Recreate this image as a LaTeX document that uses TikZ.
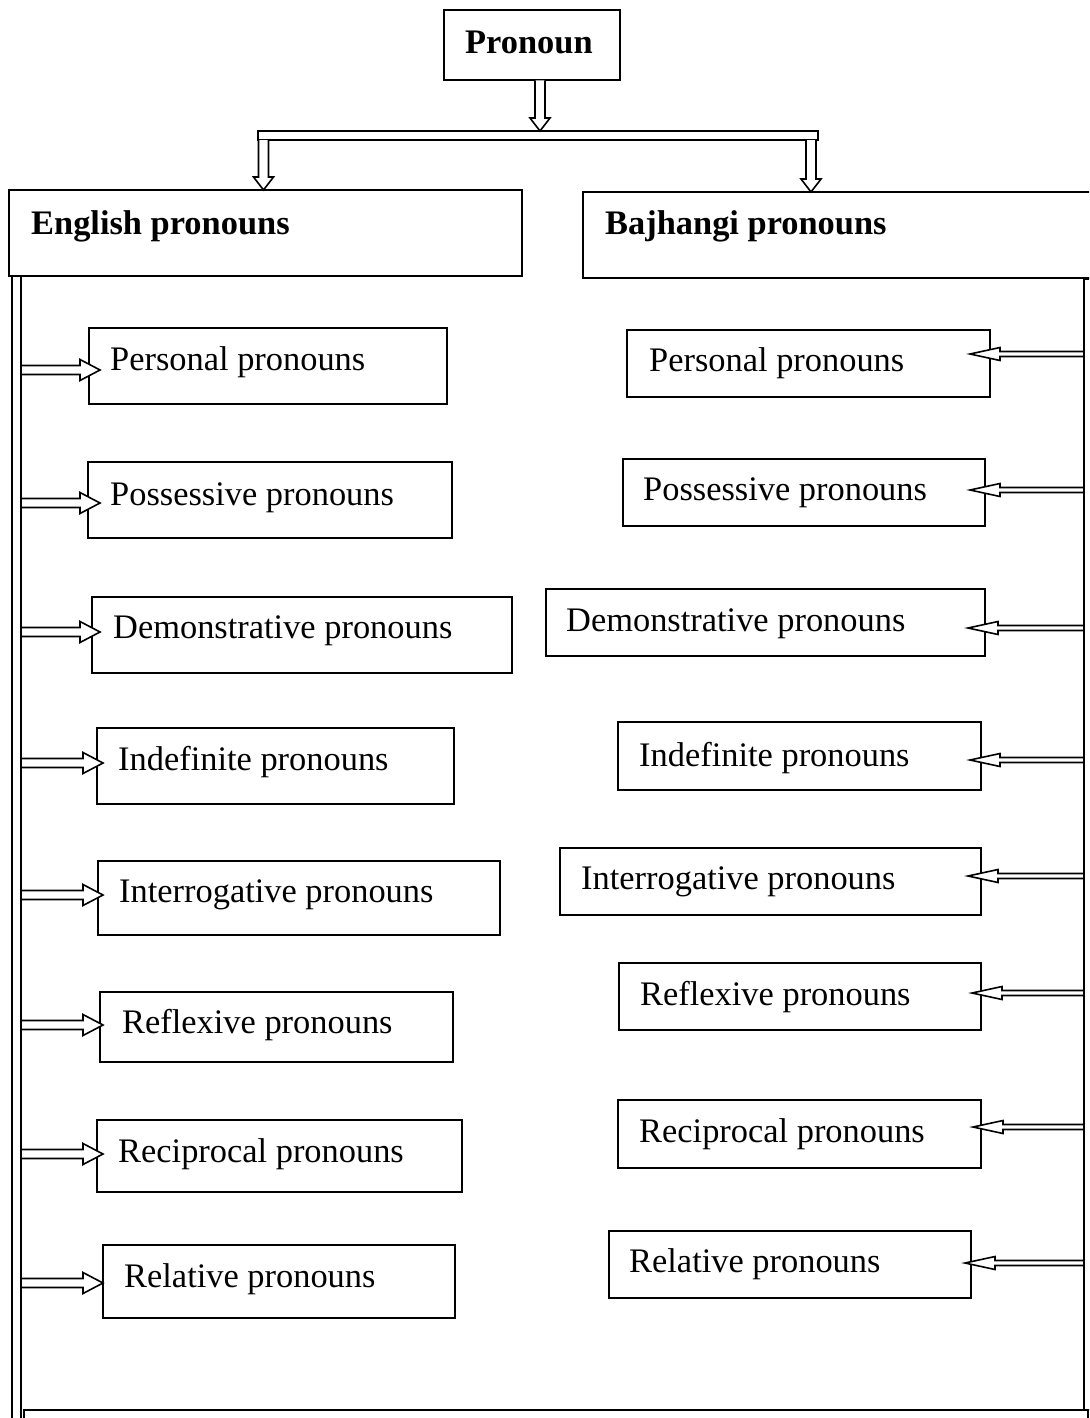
\documentclass[tikz,border=0pt]{standalone}
\usepackage{fontspec}
\setmainfont{Liberation Serif}
\newcommand\pbox[5]{\node[box, anchor=north west, minimum width={#4pt-#2pt}, minimum height={#5pt-#3pt}] (#1) at (#2,#3) {};}
\newcommand\ptext[4]{\node[lbl] (#1) at (#2,#3) {#4};}
% left block arrow: y, start x, tip x
\newcommand\rarrowL[3]{\draw[arr] (#2,{#1-4.5}) -- ({#3-20},{#1-4.5}) -- ({#3-20},{#1-10.5}) -- (#3,#1) -- ({#3-20},{#1+10.5}) -- ({#3-20},{#1+4.5}) -- (#2,{#1+4.5}) -- cycle;}
% right column arrow pointing left: y, start x, tip x
\newcommand\larrowR[3]{\draw[arr] (#2,{#1-2.5}) -- ({#3+30},{#1-2.5}) -- ({#3+30},{#1-6.5}) -- (#3,#1) -- ({#3+30},{#1+6.5}) -- ({#3+30},{#1+2.5}) -- (#2,{#1+2.5}) -- cycle;}
% down block arrow: x center, y start, tip y
\newcommand\darrow[3]{\draw[arr] ({#1-5},#2) -- ({#1-5},{#3-13}) -- ({#1-10},{#3-13}) -- (#1,#3) -- ({#1+10},{#3-13}) -- ({#1+5},{#3-13}) -- ({#1+5},#2);}
\begin{document}
\begin{tikzpicture}[x=1pt,y=-1pt,
  box/.style={draw, line width=2pt, inner sep=0pt, outer sep=0pt},
  lbl/.style={anchor=base west, inner sep=0pt, font=\fontsize{34.4}{40}\selectfont},
  hlbl/.style={lbl, font=\fontsize{34.4}{40}\selectfont\bfseries},
  arr/.style={draw, line width=1.6pt, fill=white, line join=miter},
  bar/.style={draw, line width=1.8pt, fill=white}]
\useasboundingbox (0,0) rectangle (1089,1418);
\clip (0,0) rectangle (1089,1418);

% top
\pbox{pron}{444}{10}{620}{80}
\node[hlbl] (tpron) at (465,54) {Pronoun};
\draw[bar] (258,131) rectangle (818,140);
\darrow{540}{80.5}{131}
\darrow{263.5}{140}{190}
\darrow{811}{140}{192}

% headers
\pbox{eng}{9}{190}{522}{276}
\node[hlbl] (teng) at (31,234) {English pronouns};
\pbox{baj}{583}{192}{1100}{278}
\node[hlbl] (tbaj) at (605,234) {Bajhangi pronouns};

% vertical bars
\draw[bar] (12,276) rectangle (21,1430);
\draw[bar] (1084,279) rectangle (1093,1410);
\pbox{bottom}{24}{1410}{1088}{1440}

% left column
\pbox{l1}{89}{328}{447}{404}   \ptext{tl1}{110}{370}{Personal pronouns}
\pbox{l2}{88}{462}{452}{538}   \ptext{tl2}{110}{505}{Possessive pronouns}
\pbox{l3}{92}{597}{512}{673}   \ptext{tl3}{113}{638}{Demonstrative pronouns}
\pbox{l4}{97}{728}{454}{804}   \ptext{tl4}{118}{770}{Indefinite pronouns}
\pbox{l5}{98}{861}{500}{935}   \ptext{tl5}{119}{902}{Interrogative pronouns}
\pbox{l6}{100}{992}{453}{1062} \ptext{tl6}{122}{1033}{Reflexive pronouns}
\pbox{l7}{97}{1120}{462}{1192} \ptext{tl7}{118}{1162}{Reciprocal pronouns}
\pbox{l8}{103}{1245}{455}{1318}\ptext{tl8}{124}{1287}{Relative pronouns}

\rarrowL{370}{21}{100}
\rarrowL{503}{21}{100}
\rarrowL{632}{21}{100}
\rarrowL{763}{21}{103}
\rarrowL{895}{21}{103}
\rarrowL{1025}{21}{103}
\rarrowL{1154}{21}{103}
\rarrowL{1283}{21}{103}

% right column
\pbox{r1}{627}{330}{990}{397}  \ptext{tr1}{649}{371}{Personal pronouns}
\pbox{r2}{623}{459}{985}{526}  \ptext{tr2}{643}{500}{Possessive pronouns}
\pbox{r3}{546}{589}{985}{656}  \ptext{tr3}{566}{631}{Demonstrative pronouns}
\pbox{r4}{618}{722}{981}{790}  \ptext{tr4}{639}{766}{Indefinite pronouns}
\pbox{r5}{560}{848}{981}{915}  \ptext{tr5}{581}{889}{Interrogative pronouns}
\pbox{r6}{619}{963}{981}{1030} \ptext{tr6}{640}{1005}{Reflexive pronouns}
\pbox{r7}{618}{1100}{981}{1168}\ptext{tr7}{639}{1142}{Reciprocal pronouns}
\pbox{r8}{609}{1231}{971}{1298}\ptext{tr8}{629}{1272}{Relative pronouns}

\larrowR{354}{1084}{970}
\larrowR{490}{1084}{970}
\larrowR{628}{1084}{968}
\larrowR{760}{1084}{970}
\larrowR{876}{1084}{968}
\larrowR{993}{1084}{972}
\larrowR{1127}{1084}{973}
\larrowR{1263}{1084}{965}
\end{tikzpicture}
\end{document}
